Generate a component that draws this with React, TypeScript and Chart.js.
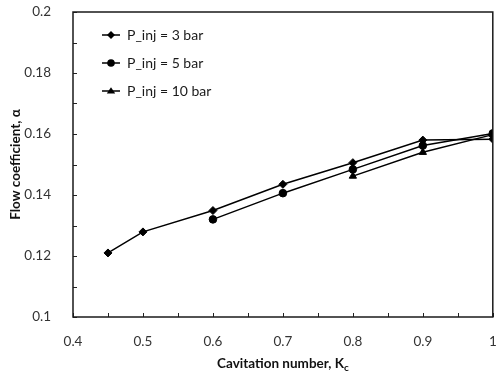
import React, { useEffect, useRef } from "react";
import { Chart, registerables } from "chart.js";

Chart.register(...registerables);

const cavitationNumbers3 = [0.45, 0.5, 0.6, 0.7, 0.8, 0.9, 1.0];
const flowCoeff3 = [0.121, 0.1279, 0.1349, 0.1435, 0.1506, 0.158, 0.1583];
const cavitationNumbers5 = [0.6, 0.7, 0.8, 0.9, 1.0];
const flowCoeff5 = [0.132, 0.1406, 0.1484, 0.1562, 0.1602];
const cavitationNumbers10 = [0.8, 0.9, 1.0];
const flowCoeff10 = [0.1462, 0.154, 0.1598];
const seriesLabels = ["P_inj = 3 bar", "P_inj = 5 bar", "P_inj = 10 bar"];
const seriesMarkers = ["rectRot", "circle", "triangle"];

const FONT = "Lato, 'Open Sans', sans-serif";

const toPts = (xs: number[], ys: number[]) => xs.map((x, i) => ({ x, y: ys[i] }));

function drawMarker(ctx: CanvasRenderingContext2D, style: string, x: number, y: number, r: number) {
  ctx.beginPath();
  if (style === "circle") {
    ctx.arc(x, y, r, 0, Math.PI * 2);
  } else if (style === "rectRot") {
    ctx.moveTo(x, y - r);
    ctx.lineTo(x + r, y);
    ctx.lineTo(x, y + r);
    ctx.lineTo(x - r, y);
    ctx.closePath();
  } else {
    const h = r * 1.5;
    ctx.moveTo(x, y - h * 0.6);
    ctx.lineTo(x + r, y + h * 0.4);
    ctx.lineTo(x - r, y + h * 0.4);
    ctx.closePath();
  }
  ctx.fill();
}

const framePlugin = {
  id: "frameAndExtras",
  afterDatasetsDraw(chart: any) {
    const { ctx, chartArea: a, scales } = chart;
    ctx.save();
    ctx.strokeStyle = "#222";
    ctx.lineWidth = 1;
    scales.y.ticks.forEach((t: any) => {
      const py = Math.round(scales.y.getPixelForValue(t.value)) + 0.5;
      ctx.beginPath();
      ctx.moveTo(a.left, py);
      ctx.lineTo(a.left + 4, py);
      ctx.stroke();
    });
    scales.x.ticks.forEach((t: any) => {
      const px = Math.round(scales.x.getPixelForValue(t.value)) + 0.5;
      ctx.beginPath();
      ctx.moveTo(px, a.bottom);
      ctx.lineTo(px, a.bottom - 4);
      ctx.stroke();
    });
    ctx.lineWidth = 1.5;
    ctx.strokeStyle = "#1a1a1a";
    ctx.strokeRect(a.left, a.top, a.right - a.left, a.bottom - a.top);

    const lx = 102;
    const ys = [35, 63, 91];
    chart.data.datasets.forEach((ds: any, i: number) => {
      const y = ys[i];
      ctx.strokeStyle = "#000";
      ctx.lineWidth = 1.5;
      ctx.beginPath();
      ctx.moveTo(lx, y);
      ctx.lineTo(lx + 18, y);
      ctx.stroke();
      ctx.fillStyle = "#000";
      drawMarker(ctx, ds.pointStyle, lx + 9, y, ds.pointRadius);
      ctx.font = `14px ${FONT}`;
      ctx.fillStyle = "#1a1a1a";
      ctx.textBaseline = "middle";
      ctx.textAlign = "left";
      ctx.fillText(ds.label, lx + 25, y);
    });

    const cx = (a.left + a.right) / 2;
    const ty = 364;
    ctx.font = `bold 13.5px ${FONT}`;
    ctx.fillStyle = "#111";
    ctx.textBaseline = "middle";
    const main = "Cavitation number, K";
    const wMain = ctx.measureText(main).width;
    ctx.font = `bold 10px ${FONT}`;
    const wSub = ctx.measureText("c").width;
    const start = cx - (wMain + wSub) / 2;
    ctx.font = `bold 13.5px ${FONT}`;
    ctx.textAlign = "left";
    ctx.fillText(main, start, ty);
    ctx.font = `bold 10px ${FONT}`;
    ctx.fillText("c", start + wMain, ty + 4);
    ctx.restore();
  },
};

export default function App() {
  const ref = useRef<HTMLCanvasElement>(null);
  useEffect(() => {
    const mk = (label: string, xs: number[], ys: number[], style: string, r: number) => ({
      label,
      data: toPts(xs, ys),
      borderColor: "#000",
      backgroundColor: "#000",
      borderWidth: 1.5,
      pointStyle: style,
      pointRadius: r,
      pointBackgroundColor: "#000",
      pointBorderColor: "#000",
      pointBorderWidth: 1,
      showLine: true,
      tension: 0,
    });
    const chart = new Chart(ref.current!, {
      type: "scatter",
      data: {
        datasets: [
          mk(seriesLabels[0], cavitationNumbers3, flowCoeff3, seriesMarkers[0], 4),
          mk(seriesLabels[1], cavitationNumbers5, flowCoeff5, seriesMarkers[1], 3.8),
          mk(seriesLabels[2], cavitationNumbers10, flowCoeff10, seriesMarkers[2], 4.2),
        ],
      },
      options: {
        animation: false,
        responsive: false,
        maintainAspectRatio: false,
        layout: { padding: { top: 12, right: 3, left: 0, bottom: 0 } },
        plugins: { legend: { display: false }, tooltip: { enabled: false } },
        scales: {
          x: {
            type: "linear",
            min: 0.4,
            max: 1.0,
            border: { display: false },
            grid: { display: false, drawTicks: false },
            ticks: {
              stepSize: 0.05,
              autoSkip: false,
              maxRotation: 0,
              padding: 17,
              color: "#333",
              font: { family: FONT, size: 13.5 },
              callback: (v: any) => {
                const n = Number(v);
                return Math.abs(n * 10 - Math.round(n * 10)) < 1e-6 ? String(Number(n.toFixed(1))) : "";
              },
            },
            afterFit: (s: any) => {
              s.height = 57;
              s.paddingRight = 0;
              s.paddingLeft = 0;
            },
          },
          y: {
            type: "linear",
            min: 0.1,
            max: 0.2,
            border: { display: false },
            grid: { display: false, drawTicks: false },
            ticks: {
              stepSize: 0.01,
              autoSkip: false,
              padding: 22,
              color: "#333",
              font: { family: FONT, size: 13.5 },
              callback: (v: any) => {
                const n = Number(v);
                return Math.abs(n * 50 - Math.round(n * 50)) < 1e-6 ? String(Number(n.toFixed(2))) : "";
              },
            },
            title: {
              display: true,
              text: "Flow coefficient, α",
              color: "#111",
              font: { family: FONT, size: 13.5, weight: "bold" },
              padding: { top: 8, bottom: 0 },
            },
            afterFit: (s: any) => {
              s.width = 73;
              s.paddingTop = 0;
              s.paddingBottom = 0;
            },
          },
        },
      },
      plugins: [framePlugin],
    } as any);
    return () => chart.destroy();
  }, []);
  return (
    <div style={{ position: "fixed", left: 0, top: 0, width: 498, height: 374, background: "#fff" }}>
      <canvas ref={ref} width={498} height={374} style={{ display: "block" }} />
    </div>
  );
}
